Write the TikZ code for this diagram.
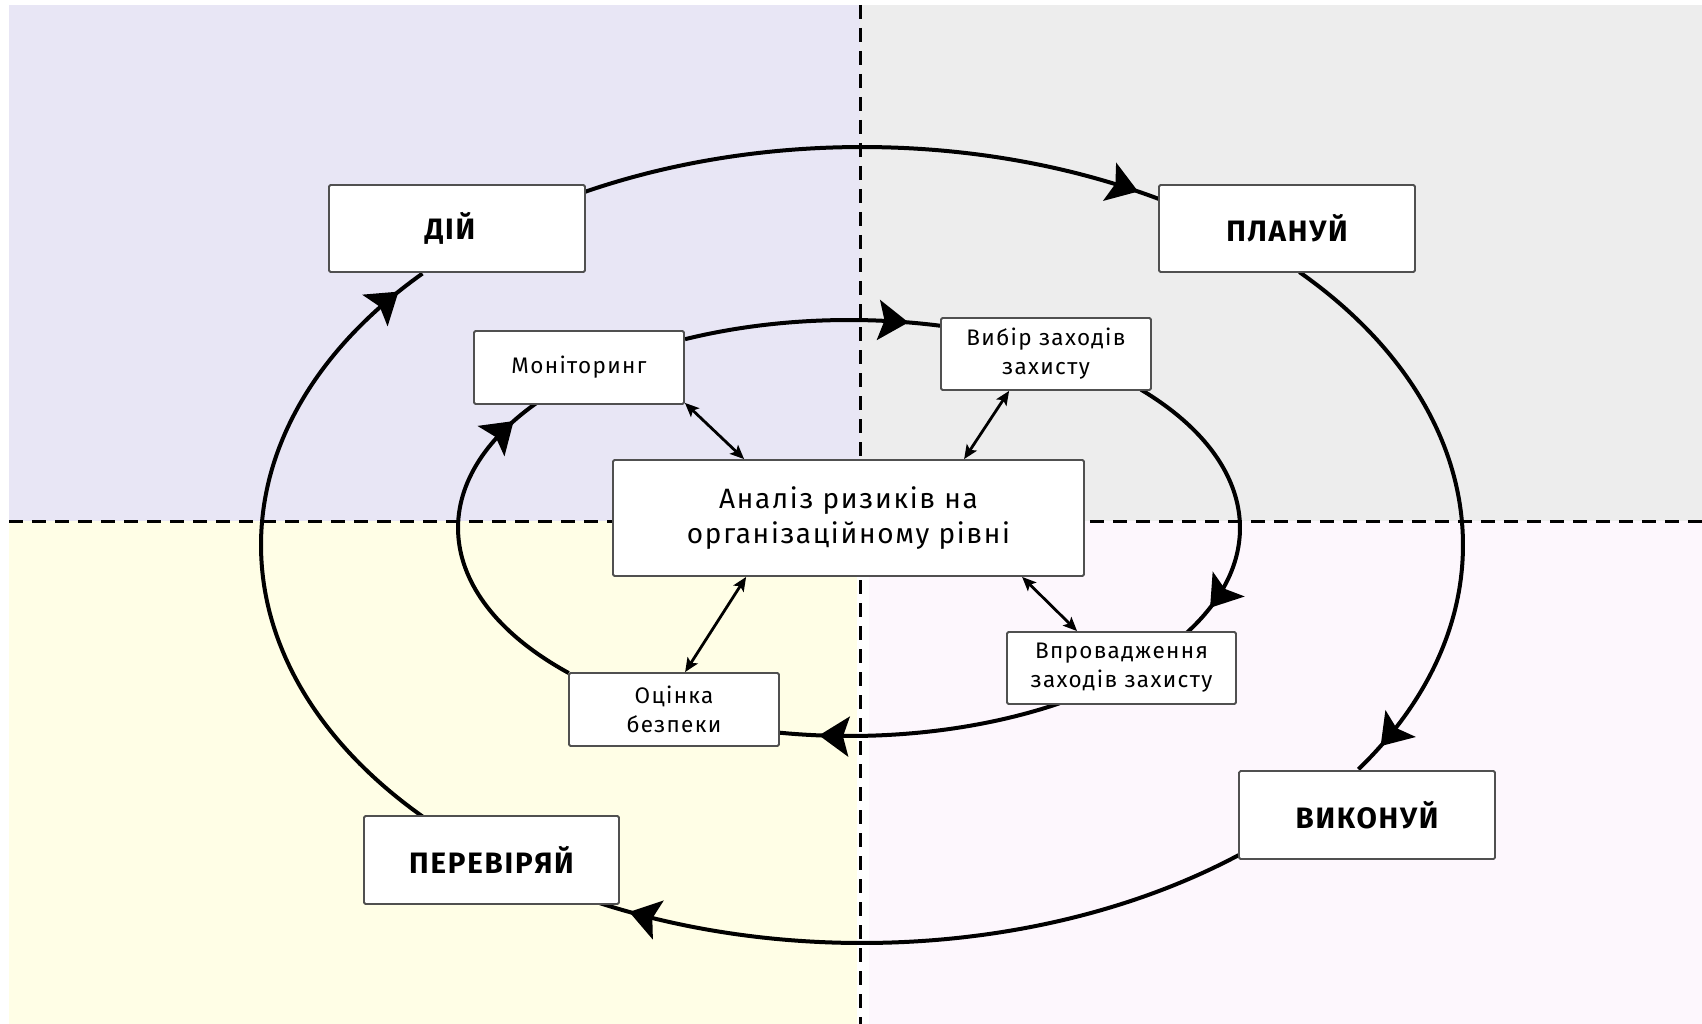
\documentclass[tikz,border=0pt]{standalone}
\usepackage{fontspec}
\setmainfont{Fira Sans}[LetterSpace=6]
\usetikzlibrary{arrows.meta,decorations.markings,calc}
\definecolor{bgTL}{HTML}{E8E6F5}
\definecolor{bgTR}{HTML}{EDEDED}
\definecolor{bgBL}{HTML}{FFFEE6}
\definecolor{bgBR}{HTML}{FDF7FD}
\definecolor{boxline}{HTML}{505050}
\begin{document}
\begin{tikzpicture}[x=1pt,y=1pt,
  box/.style={draw=boxline, line width=1.8pt, fill=white, rounded corners=1.5pt, align=center, inner sep=0pt, text=black},
  big/.style={box, font=\fontsize{29.5}{34}\selectfont\bfseries, minimum width=256pt, minimum height=87pt},
  small/.style={box, font=\fontsize{22.5}{29}\selectfont},
  cyc/.style={line width=4pt},
  tipat/.style={postaction={decorate}, decoration={markings, mark=at position #1 with {\arrow{Stealth[length=30pt,width=40pt,inset=6pt]}}}},
  dbl/.style={line width=2.8pt, {Stealth[length=14pt,width=12pt,inset=3pt]}-{Stealth[length=14pt,width=12pt,inset=3pt]}},
  sep/.style={line width=3pt, dash pattern=on 14pt off 9pt},
]
\useasboundingbox (0,0) rectangle (1702,-1024);
% background quadrants
\fill[white] (0,0) rectangle (1702,-1024);
\fill[bgTL] (9,-5) rectangle (860,-521);
\fill[bgTR] (860,-5) rectangle (1702,-521);
\fill[bgBL] (9,-521) rectangle (857,-1024);
\fill[bgBR] (869,-521) rectangle (1702,-1024);
\draw[sep] (860,-5) -- (860,-1024);
\draw[sep] (9,-521) -- (1702,-521);

% ellipse centres
\coordinate (OC) at (862,-545);
\coordinate (IC) at (849,-528);
% outer cycle points
\coordinate (o1) at ($(OC)+(117.4:601pt and 398pt)$);
\coordinate (o2) at ($(OC)+(43.3:601pt and 398pt)$);
\coordinate (o3) at ($(OC)+(-51.2:601pt and 398pt)$);
\coordinate (o4) at ($(OC)+(223:601pt and 398pt)$);
% inner cycle points
\coordinate (i1) at ($(IC)+(114.8:391pt and 208pt)$);
\coordinate (i2) at ($(IC)+(41.7:391pt and 208pt)$);
\coordinate (i3) at ($(IC)+(-57.4:391pt and 208pt)$);
\coordinate (i4) at ($(IC)+(224.2:391pt and 208pt)$);

% outer cycle
\draw[cyc, tipat=-22pt] (o1) arc[start angle=117.4, end angle=60.4, x radius=601pt, y radius=398pt];
\draw[cyc, tipat=-32pt] (o2) arc[start angle=43.3, end angle=-34.3, x radius=601pt, y radius=398pt];
\draw[cyc, tipat=-32pt] (o3) arc[start angle=-51.2, end angle=-116, x radius=601pt, y radius=398pt];
\draw[cyc, tipat=-30pt] (o4) arc[start angle=223, end angle=137, x radius=601pt, y radius=398pt];
% inner cycle
\draw[cyc, tipat=-34pt] (i1) arc[start angle=114.8, end angle=76.2, x radius=391pt, y radius=208pt];
\draw[cyc, tipat=-34pt] (i2) arc[start angle=41.7, end angle=-30.2, x radius=391pt, y radius=208pt];
\draw[cyc, tipat=-40pt] (i3) arc[start angle=-57.4, end angle=-100.3, x radius=391pt, y radius=208pt];
\draw[cyc, tipat=-30pt] (i4) arc[start angle=224.2, end angle=142.9, x radius=391pt, y radius=208pt];

% nodes
\node[big] (dii) at (457,-228.5) {ДІЙ\hspace*{14pt}};
\node[big] (plan) at (1287,-228.5) {ПЛАНУЙ};
\node[big, minimum height=88pt] (vyk) at (1367,-815) {ВИКОНУЙ};
\node[big, minimum width=255pt, minimum height=88pt] (perev) at (491.5,-860) {ПЕРЕВІРЯЙ};
\node[small, minimum width=210pt, minimum height=73pt] (mon) at (579,-367.5) {Моніторинг};
\node[small, minimum width=210pt, minimum height=72pt] (vyb) at (1046,-354) {Вибір заходів\\захисту};
\node[box, font=\fontsize{28}{35}\selectfont, minimum width=471pt, minimum height=116pt] (cen) at (848.5,-518) {Аналіз ризиків на\\організаційному рівні};
\node[small, minimum width=229pt, minimum height=72pt] (vpr) at (1121.5,-668) {Впровадження\\заходів захисту};
\node[small, minimum width=210pt, minimum height=73pt] (ots) at (674,-709.5) {Оцінка\\безпеки};

% links to the centre
\draw[dbl] ($(mon.south east)+(0,2)$) -- ($(cen.north west)+(132,0)$);
\draw[dbl] ($(vyb.south west)+(69,0)$) -- ($(cen.north west)+(352,0)$);
\draw[dbl] ($(cen.south west)+(134,0)$) -- ($(ots.north west)+(117,0)$);
\draw[dbl] ($(cen.south west)+(410,0)$) -- ($(vpr.north west)+(71,0)$);
\end{tikzpicture}
\end{document}
